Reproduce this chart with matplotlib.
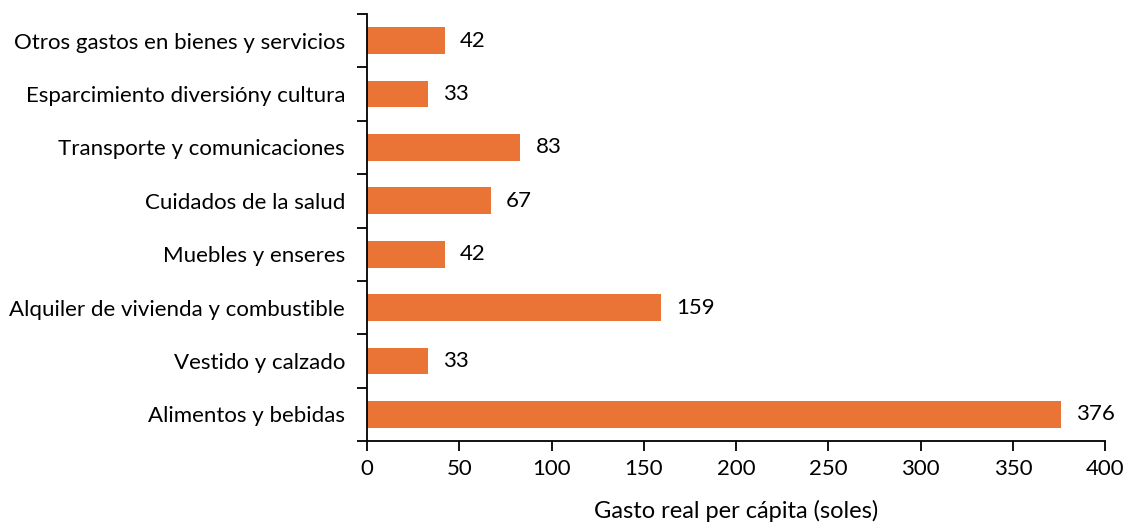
import matplotlib.pyplot as plt
import numpy as np

# data, bottom to top as drawn
categorias = [
    "Alimentos y bebidas",
    "Vestido y calzado",
    "Alquiler de vivienda y combustible",
    "Muebles y enseres",
    "Cuidados de la salud",
    "Transporte y comunicaciones",
    "Esparcimiento diversióny cultura",
    "Otros gastos en bienes y servicios",
]
gasto = [376, 33, 159, 42, 67, 83, 33, 42]
xticks = [0, 50, 100, 150, 200, 250, 300, 350, 400]

plt.rcParams['font.family'] = ['Lato', 'DejaVu Sans']

fig = plt.figure(figsize=(11.3, 5.23), dpi=100)
ax = fig.add_axes([0.325, 0.157, 0.653, 0.816])

y = np.arange(len(categorias))
bars = ax.barh(y, gasto, height=0.5, color='#EA7435')
ax.bar_label(bars, labels=[str(v) for v in gasto], padding=11, fontsize=16)

ax.set_xlim(0, 400)
ax.set_ylim(-0.5, len(categorias) - 0.5)
ax.set_xticks(xticks)
ax.set_xticklabels([str(t) for t in xticks], fontsize=16)

# ticks between categories, labels at centers
ax.set_yticks(np.arange(len(categorias) + 1) - 0.5)
ax.set_yticklabels([])
ax.set_yticks(y, minor=True)
ax.set_yticklabels(categorias, minor=True, fontsize=16)
ax.tick_params(axis='y', which='major', length=7, width=1.3)
ax.tick_params(axis='y', which='minor', length=0, pad=16)
ax.tick_params(axis='x', length=7, width=1.3, pad=6)

for s in ['top', 'right']:
    ax.spines[s].set_visible(False)
for s in ['left', 'bottom']:
    ax.spines[s].set_linewidth(1.3)

ax.set_xlabel("Gasto real per cápita (soles)", fontsize=17, labelpad=15)

fig.savefig("out.png", dpi=100)
